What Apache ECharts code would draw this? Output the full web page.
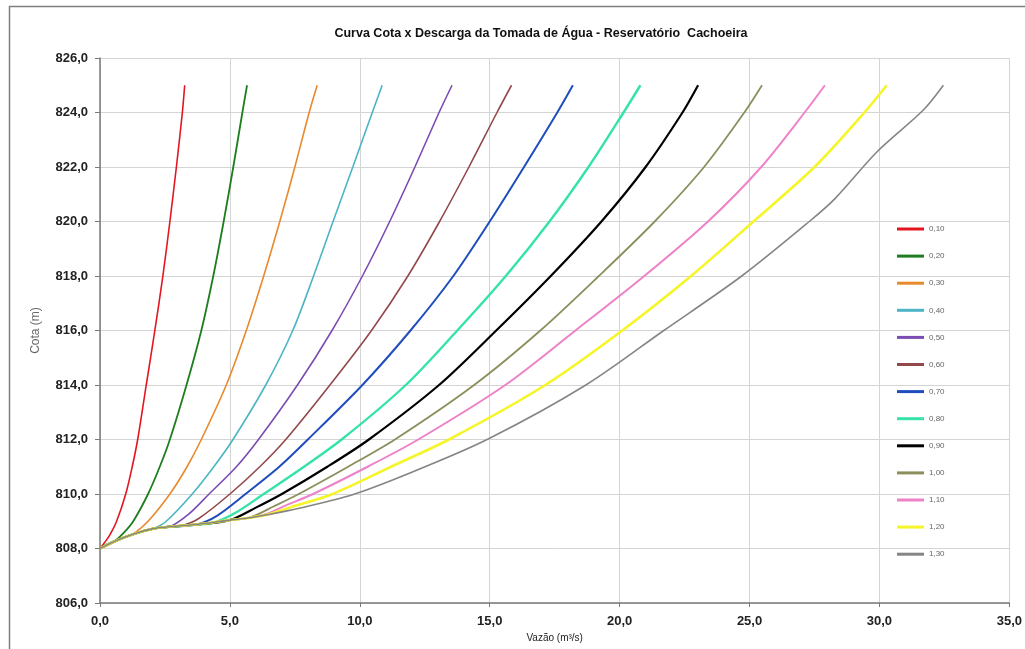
<!DOCTYPE html>
<html><head><meta charset="utf-8">
<script src="https://cdn.jsdelivr.net/npm/echarts@6/dist/echarts.min.js"></script>
<style>html,body{margin:0;padding:0;background:#fff}#c{width:1025px;height:649px}</style>
</head><body><div id="c"></div>
<script>
// Gate openings (legend labels)
const openings = ['0,10','0,20','0,30','0,40','0,50','0,60','0,70','0,80','0,90','1,00','1,10','1,20','1,30'];
// Curves: [vazão (m³/s), cota (m)]
const q010 = [[0,808],[0.2,808.25],[0.38,808.5],[0.64,809],[0.99,810],[1.24,811],[1.45,812],[1.78,814],[2.11,816],[2.42,818],[2.69,820],[2.94,822],[3.17,824],[3.26,825]];
const q020 = [[0,808],[0.3,808.16],[0.58,808.28],[0.92,808.58],[1.28,809],[1.85,810],[2.3,811],[2.69,812],[3.33,814],[3.9,816],[4.36,818],[4.76,820],[5.13,822],[5.48,824],[5.66,825]];
const q030 = [[0,808],[0.3,808.16],[0.6,808.28],[1.0,808.43],[1.28,808.53],[1.85,809],[2.69,810],[3.35,811],[3.9,812],[4.86,814],[5.63,816],[6.3,818],[6.92,820],[7.5,822],[8.05,824],[8.36,825]];
const q040 = [[0,808],[0.3,808.16],[0.6,808.28],[1.3,808.53],[2.05,808.73],[2.55,809],[3.55,810],[4.38,811],[5.12,812],[6.38,814],[7.42,816],[8.22,818],[8.97,820],[9.73,822],[10.48,824],[10.86,825]];
const q050 = [[0,808],[0.6,808.28],[1.3,808.53],[2.05,808.73],[2.69,808.8],[3.4,809.25],[4.2,810],[5.25,811],[6.1,812],[7.6,814],[8.93,816],[10.1,818],[11.15,820],[12.12,822],[13.05,824],[13.55,825]];
const q060 = [[0,808],[0.6,808.28],[1.3,808.53],[2.05,808.73],[2.69,808.8],[3.2,808.85],[3.8,809.1],[5.0,810],[6.15,811],[7.15,812],[8.85,814],[10.45,816],[11.85,818],[13.07,820],[14.2,822],[15.28,824],[15.84,825]];
const q070 = [[0,808],[0.6,808.28],[1.3,808.53],[2.05,808.73],[2.69,808.8],[3.71,808.88],[4.5,809.2],[5.6,810],[6.9,811],[8.0,812],[10.1,814],[11.95,816],[13.6,818],[15.0,820],[16.32,822],[17.6,824],[18.2,825]];
const q080 = [[0,808],[0.6,808.28],[1.3,808.53],[2.05,808.73],[2.69,808.8],[3.71,808.88],[4.35,808.94],[5.2,809.3],[6.3,810],[7.67,810.88],[9.3,812],[11.77,814],[13.75,816],[15.62,818],[17.3,820],[18.8,822],[20.15,824],[20.8,825]];
const q090 = [[0,808],[0.6,808.28],[1.3,808.53],[2.05,808.73],[2.69,808.8],[3.71,808.88],[4.99,809.04],[6.0,809.5],[7.0,810],[8.75,811],[10.35,812],[13.05,814],[15.25,816],[17.35,818],[19.3,820],[21.0,822],[22.42,824],[23.02,825]];
const q100 = [[0,808],[0.6,808.28],[1.3,808.53],[2.05,808.73],[2.69,808.8],[3.71,808.88],[4.99,809.04],[5.76,809.13],[6.7,809.55],[7.65,810],[9.55,811],[11.35,812],[14.4,814],[16.95,816],[19.2,818],[21.35,820],[23.25,822],[24.8,824],[25.48,825]];
const q110 = [[0,808],[0.6,808.28],[1.3,808.53],[2.05,808.73],[2.69,808.8],[3.71,808.88],[4.99,809.04],[5.76,809.13],[6.4,809.27],[7.2,809.6],[8.2,810],[10.3,811],[12.25,812],[15.6,814],[18.3,816],[20.95,818],[23.4,820],[25.45,822],[27.12,824],[27.9,825]];
const q120 = [[0,808],[0.6,808.28],[1.3,808.53],[2.05,808.73],[2.69,808.8],[3.71,808.88],[4.99,809.04],[5.76,809.13],[6.5,809.26],[7.3,809.5],[8.95,810],[11.2,811],[13.43,812],[17.14,814],[20.1,816],[22.75,818],[25.15,820],[27.5,822],[29.42,824],[30.28,825]];
const q130 = [[0,808],[0.6,808.28],[1.3,808.53],[2.05,808.73],[2.69,808.8],[3.71,808.88],[4.99,809.04],[5.76,809.13],[6.5,809.25],[7.2,809.38],[8.0,809.55],[9.8,810],[12,810.8],[14.9,812],[18.7,814],[21.7,816],[24.7,818],[27.3,820],[28.3,820.85],[29.9,822.55],[31.7,824.1],[32.46,825]];

const curves = [q010,q020,q030,q040,q050,q060,q070,q080,q090,q100,q110,q120,q130];
const colors = ['#e3161f','#1e7d1e','#e8892c','#4cb4c4','#7b4db3','#93494b','#1f4dbd','#35e3aa','#000000','#8c8f5c','#ee82c9','#f5f528','#858585'];
const widths = [1.6,1.8,1.6,1.6,1.6,1.6,2,2.4,2.2,1.8,2,2.6,1.6];

const fmt = v => v.toFixed(1).replace('.', ',');
const chart = echarts.init(document.getElementById('c'), null, {renderer: 'canvas'});
const FONT = '"Liberation Sans", Arial, sans-serif';

chart.setOption({
  animation: false,
  backgroundColor: '#fff',
  textStyle: {fontFamily: FONT},
  graphic: [{
    type: 'rect', left: 7, top: 4, silent: true,
    shape: {x: 0, y: 0, width: 1040, height: 680},
    style: {fill: 'none', stroke: '#7f7f7f', lineWidth: 1.5}
  }],
  title: {
    text: 'Curva Cota x Descarga da Tomada de Água - Reservatório  Cachoeira',
    left: 536, top: 22, textAlign: 'center',
    textStyle: {fontSize: 12.5, fontWeight: 'bold', color: '#111', fontFamily: FONT}
  },
  legend: {
    orient: 'vertical', left: 892, top: 218,
    icon: 'rect', itemWidth: 27, itemHeight: 3, itemGap: 15.1,
    data: openings,
    textStyle: {fontSize: 8, lineHeight: 12, color: '#666', fontFamily: FONT}
  },
  grid: {left: 100, right: 13, top: 58, bottom: 46, containLabel: false},
  xAxis: {
    type: 'value', min: 0, max: 35, interval: 5,
    name: 'Vazão (m³/s)', nameLocation: 'middle', nameGap: 30,
    nameTextStyle: {fontSize: 10, color: '#222', fontFamily: FONT},
    axisLine: {show: true, onZero: false, lineStyle: {color: '#7a7a7a', width: 1.5}},
    axisTick: {show: true, length: 4, lineStyle: {color: '#7a7a7a'}},
    axisLabel: {formatter: fmt, fontSize: 13, fontWeight: 'bold', color: '#222', margin: 12, fontFamily: FONT},
    splitLine: {show: true, lineStyle: {color: '#d4d4d4', width: 1}}
  },
  yAxis: {
    type: 'value', min: 806, max: 826, interval: 2,
    name: 'Cota (m)', nameLocation: 'middle', nameGap: 58, nameRotate: 90,
    nameTextStyle: {fontSize: 12, color: '#666', fontFamily: FONT},
    axisLine: {show: true, lineStyle: {color: '#7a7a7a', width: 1.5}},
    axisTick: {show: true, length: 5, lineStyle: {color: '#7a7a7a'}},
    axisLabel: {formatter: fmt, fontSize: 13, fontWeight: 'bold', color: '#222', margin: 12, fontFamily: FONT},
    splitLine: {show: true, lineStyle: {color: '#d4d4d4', width: 1}}
  },
  series: curves.map((d, i) => ({
    name: openings[i], type: 'line', data: d,
    symbol: 'none', smooth: 0.3,
    lineStyle: {color: colors[i], width: widths[i]},
    itemStyle: {color: colors[i]},
    z: 2 + i
  }))
});
</script>
</body></html>
